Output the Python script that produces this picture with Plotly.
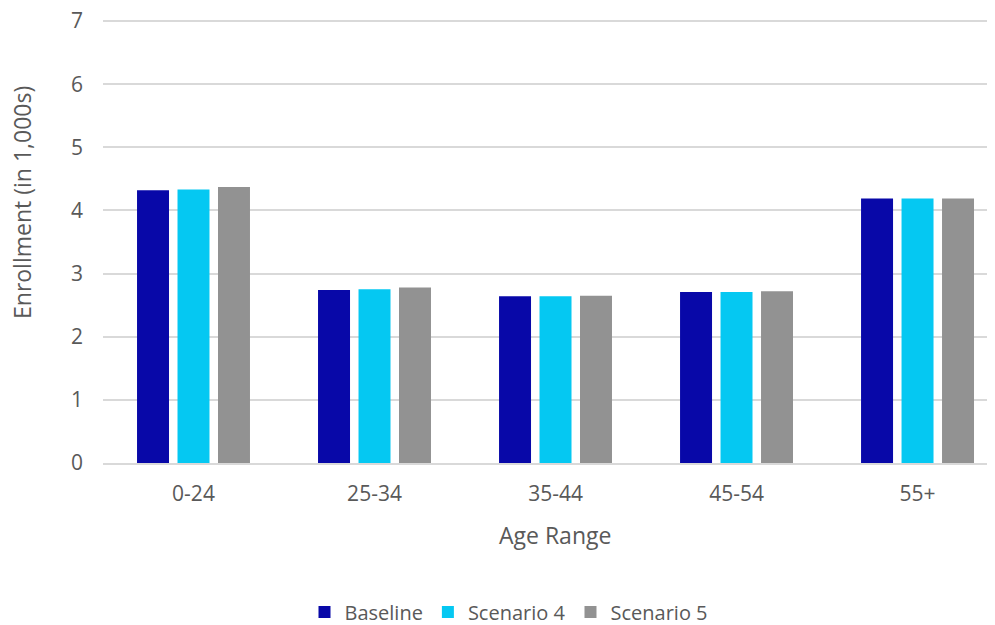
import plotly.graph_objects as go

categories = ["0-24", "25-34", "35-44", "45-54", "55+"]
baseline = [4.32, 2.74, 2.64, 2.71, 4.19]
scenario4 = [4.33, 2.75, 2.64, 2.71, 4.19]
scenario5 = [4.37, 2.78, 2.65, 2.72, 4.19]
series_names = ["Baseline", "Scenario 4", "Scenario 5"]
colors = ["#0808A8", "#05C8F2", "#929292"]

fig = go.Figure()
for name, vals, col in zip(series_names, [baseline, scenario4, scenario5], colors):
    fig.add_trace(go.Bar(name=name, x=categories, y=vals, marker=dict(color=col, line=dict(width=0))))

# page body has an 8px margin; compensate so the plot lands where the reference has it
OFF = 8
PL, PT, PW, PH = 103, 20, 892, 443

font_family = "Open Sans, Liberation Sans, sans-serif"
fig.update_layout(
    width=995 - OFF, height=625 - OFF,
    barmode="group", bargap=0.329, bargroupgap=0.21,
    plot_bgcolor="white", paper_bgcolor="white",
    margin=dict(l=PL - OFF, r=995 - OFF - (PL - OFF) - PW, t=PT - OFF,
                b=625 - OFF - (PT - OFF) - PH, autoexpand=False),
    font=dict(family=font_family, color="#595959", size=21),
    xaxis=dict(
        range=[-0.5, 4.428], showgrid=False, showline=True, linecolor="#D9D9D9", linewidth=2,
        ticks="", automargin=False, ticklabelstandoff=11, ticklabeloverflow="allow",
        tickfont=dict(size=21),
    ),
    yaxis=dict(
        range=[0, 7.016], dtick=1, showgrid=True, gridcolor="#D9D9D9", gridwidth=1.5,
        zeroline=False, ticks="", tickfont=dict(size=21), automargin=False,
        ticklabelstandoff=19, ticklabeloverflow="allow",
    ),
    annotations=[
        dict(text="Age Range", xref="paper", yref="paper", x=(555 - PL) / PW, y=(PT + PH - 535) / PH,
             xanchor="center", yanchor="middle", showarrow=False, font=dict(size=23)),
        dict(text="Enrollment (in 1,000s)", xref="paper", yref="paper", x=(22 - PL) / PW,
             y=(PT + PH - 203) / PH, xanchor="center", yanchor="middle", textangle=-90,
             showarrow=False, font=dict(size=23)),
    ],
    legend=dict(orientation="h", x=(509 - PL) / PW, xanchor="center", y=(PT + PH - 612) / PH,
                yanchor="middle", font=dict(size=20), traceorder="normal"),
)

fig.write_html("out.html")
